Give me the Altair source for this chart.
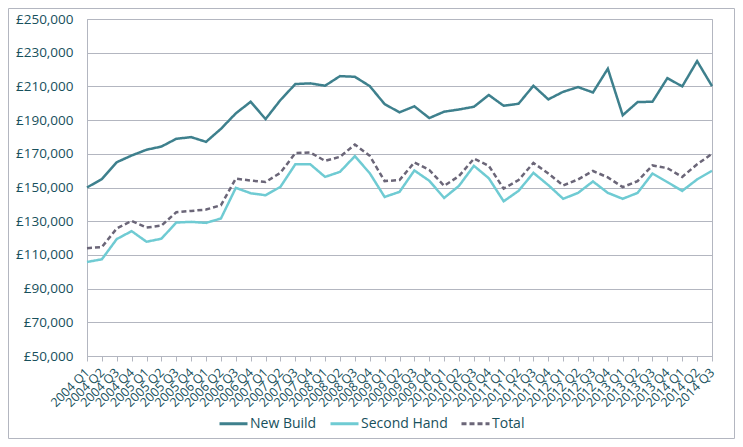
import altair as alt
import pandas as pd

QUARTERS = [f"{y} Q{q}" for y in range(2004, 2015) for q in range(1, 5)][:43]

NEW_BUILD = [
    150000, 155000, 165000, 169000, 172400, 174300, 178900, 179900, 177100, 184800,
    194000, 200900, 190600, 201900, 211400, 211800, 210400, 216100, 215700, 210200,
    199500, 194600, 198200, 191200, 195000, 196300, 197900, 204900, 198500, 199700,
    210400, 202300, 206800, 209600, 206400, 220500, 192900, 200700, 200900, 214900,
    210000, 225000, 210200,
]
SECOND_HAND = [
    105800, 107400, 119400, 124100, 117800, 119600, 129200, 129600, 129000, 131600,
    149800, 146600, 145400, 150400, 163800, 163800, 156300, 159300, 168600, 158500,
    144400, 147400, 160100, 154000, 143800, 151000, 162900, 155500, 141800, 148000,
    158700, 151400, 143300, 146800, 153600, 146800, 143300, 146800, 158300, 153200,
    148000, 154800, 159900,
]
TOTAL = [
    114000, 114600, 125700, 130200, 126200, 127400, 135300, 136100, 136900, 139500,
    155300, 154100, 153300, 158700, 170400, 170800, 165800, 168200, 175500, 168800,
    153800, 154400, 164900, 160400, 151000, 156800, 167100, 162900, 149300, 154400,
    164600, 158300, 151200, 154800, 159800, 156000, 150200, 153800, 163100, 161500,
    156300, 163800, 170000,
]

SERIES = ["New Build", "Second Hand", "Total"]
COLORS = ["#3e808d", "#6fcbd3", "#6b6678"]
DASHES = [[1, 0], [1, 0], [5, 3]]
TEXT = "#17505c"
GRID = "#b3b6c0"

df = pd.concat([
    pd.DataFrame({"quarter": QUARTERS, "price": vals, "series": name})
    for name, vals in zip(SERIES, [NEW_BUILD, SECOND_HAND, TOTAL])
])

lines = (
    alt.Chart(df)
    .mark_line(strokeWidth=2.5)
    .encode(
        x=alt.X(
            "quarter:O",
            sort=QUARTERS,
            title=None,
            scale=alt.Scale(padding=0),
            axis=alt.Axis(
                labelAngle=-45,
                labelAlign="right",
                labelBaseline="middle",
                labelFontSize=12.5,
                labelPadding=9,
                tickSize=5,
                tickColor=GRID,
                domainColor=GRID,
                grid=False,
            ),
        ),
        y=alt.Y(
            "price:Q",
            title=None,
            scale=alt.Scale(domain=[50000, 250000], nice=False),
            axis=alt.Axis(
                values=list(range(50000, 250001, 20000)),
                labelExpr="'£' + format(datum.value, ',')",
                labelFontSize=13.5,
                labelPadding=14,
                ticks=False,
                domainColor=GRID,
                gridColor=GRID,
            ),
        ),
        color=alt.Color(
            "series:N",
            scale=alt.Scale(domain=SERIES, range=COLORS),
            legend=alt.Legend(title=None),
        ),
        strokeDash=alt.StrokeDash(
            "series:N",
            scale=alt.Scale(domain=SERIES, range=DASHES),
            legend=alt.Legend(title=None),
        ),
    )
)

frame = (
    alt.Chart(pd.DataFrame({"a": [0]}))
    .mark_rect(fillOpacity=0, stroke=GRID, strokeWidth=1)
    .encode(
        x=alt.value(-78.5), x2=alt.value(647.5),
        y=alt.value(-10.5), y2=alt.value(419.5),
    )
)

chart = (
    alt.layer(lines, frame)
    .properties(
        width=625,
        height=337,
        padding={"left": 79, "right": 23, "top": 11, "bottom": 83},
        autosize=alt.AutoSizeParams(type="none"),
    )
    .configure(font="Open Sans")
    .configure_view(stroke=GRID)
    .configure_axis(labelColor=TEXT, labelFont="Open Sans")
    .configure_legend(
        orient="none",
        legendX=131,
        legendY=389,
        direction="horizontal",
        symbolType="stroke",
        symbolSize=784,
        symbolStrokeWidth=3,
        labelFontSize=14,
        labelColor=TEXT,
        columnPadding=7,
        labelOffset=1,
    )
)

chart.save("out.html", embed_options={"renderer": "svg", "actions": False})
